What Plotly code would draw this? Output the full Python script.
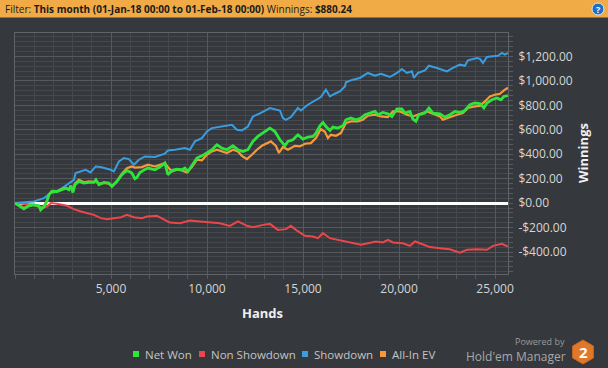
import plotly.graph_objects as go

# ---------------- data ----------------
net_hands = [0, 203, 464, 724, 984, 1245, 1333, 1505, 1661, 1766, 1922, 2182, 2443, 2651, 2807, 2911, 3015, 3120,
             3328, 3588, 3849, 4109, 4213, 4370, 4630, 4890, 5047, 5307, 5567, 5828, 6088, 6244, 6349, 6505, 6713,
             6921, 7286, 7546, 7807, 7963, 8171, 8431, 8692, 8848, 9004, 9213, 9473, 9733, 9994, 10254, 10515,
             10775, 11036, 11348, 11608, 11869, 12129, 12390, 12650, 13015, 13275, 13536, 13796, 14056, 14212,
             14473, 14733, 14994, 15254, 15515, 15671, 15879, 16036, 16192, 16400, 16556, 16817, 17077, 17233,
             17494, 17754, 18015, 18223, 18483, 18744, 18900, 19160, 19421, 19629, 19890, 20150, 20306, 20567,
             20723, 20879, 21035, 21348, 21556, 21764, 22129, 22390, 22650, 22910, 23171, 23431, 23692, 23952,
             24212, 24421, 24577, 24837, 25098, 25306, 25463, 25671]
net_won = [0, -22, -47, -22, -14, -22, -55, -30, 14, 68, 95, 95, 113, 123, 109, 143, 87, 150,
           177, 164, 169, 169, 191, 150, 169, 164, 136, 177, 232, 268, 246, 200, 210, 250, 270,
           287, 273, 295, 328, 232, 267, 278, 273, 287, 259, 305, 369, 387, 414, 437, 477,
           450, 437, 469, 437, 423, 437, 505, 546, 586, 614, 586, 518, 469, 505,
           518, 559, 524, 541, 546, 573, 633, 660, 627, 595, 622, 614, 633, 682,
           696, 682, 696, 723, 737, 750, 723, 742, 731, 709, 770, 770, 737, 750,
           688, 669, 723, 737, 778, 737, 731, 704, 723, 750, 742, 758, 805, 819,
           814, 778, 819, 846, 860, 846, 873, 880.24]

nsd_hands = [0, 984, 1349, 1661, 1870, 2182, 2703, 3067, 3432, 3745, 4109, 4474, 4786, 5151, 5515, 5828, 6192,
             6609, 6869, 7390, 7703, 8067, 8588, 9108, 9629, 10150, 10671, 11192, 11608, 12077, 12390, 12911,
             13275, 13692, 14108, 14369, 14629, 15098, 15515, 15775, 15931, 16036, 16400, 16817, 17181, 17598,
             18015, 18379, 18796, 19160, 19421, 19681, 20202, 20567, 20827, 21087, 21608, 22129, 22650, 23171,
             23535, 24056, 24577, 24890, 25359, 25671]
nsd_won = [0, -14, -41, -28, 0, -5, -22, -49, -69, -82, -96, -123, -131, -123, -115, -96, -115,
           -123, -110, -104, -131, -159, -164, -142, -150, -159, -164, -186, -150, -186, -197, -178,
           -170, -219, -213, -186, -219, -268, -273, -287, -260, -246, -287, -300, -314, -322,
           -341, -328, -314, -322, -300, -322, -328, -350, -314, -328, -360, -369, -377, -405,
           -382, -377, -382, -350, -333, -355]

sd_hands = [0, 984, 1505, 1854, 2198, 2547, 2807, 3067, 3156, 3416, 3677, 3937, 4198, 4458, 4979, 5151, 5411,
            5671, 5932, 6192, 6453, 6765, 7286, 7807, 7963, 8327, 8848, 9108, 9369, 9733, 9994, 10254, 10775,
            11296, 11556, 11817, 12129, 12390, 12754, 13015, 13275, 13796, 13952, 14108, 14369, 14733, 14890,
            15254, 15671, 15931, 16192, 16400, 16661, 16921, 17181, 17233, 17598, 17963, 18379, 18744, 19056,
            19421, 19525, 19890, 20150, 20410, 20671, 20775, 20983, 21348, 21556, 21973, 22494, 22806, 23171,
            23431, 23587, 24056, 24212, 24369, 24577, 24890, 25150, 25359, 25515, 25671]
sd_won = [0, 13, 41, 82, 95, 136, 164, 191, 246, 259, 273, 251, 300, 295, 273, 259, 341,
          369, 360, 314, 355, 382, 377, 404, 431, 437, 450, 437, 505, 532, 586, 614, 627,
          641, 600, 595, 627, 709, 735, 760, 778, 758, 696, 682, 704, 778, 758,
          805, 846, 868, 928, 873, 895, 914, 955, 988, 1010, 1024, 1065, 1043, 1059,
          1037, 1032, 1065, 1097, 1065, 1078, 1024, 1065, 1086, 1124, 1106, 1078, 1106, 1133,
          1124, 1168, 1188, 1180, 1147, 1196, 1201, 1206, 1229, 1215, 1229]

ev_hands = [0, 203, 464, 724, 984, 1245, 1333, 1505, 1661, 1766, 1922, 2182, 2443, 2651, 2807, 2911, 3015, 3120,
            3328, 3588, 3849, 4109, 4213, 4370, 4630, 4890, 5047, 5307, 5567, 5828, 6088, 6244, 6349, 6609,
            6921, 7286, 7546, 7807, 7963, 8171, 8431, 8692, 8952, 9213, 9473, 9733, 9994, 10254, 10515, 10775,
            11036, 11348, 11608, 11817, 12077, 12338, 12598, 12859, 13015, 13327, 13588, 13744, 13952, 14212,
            14577, 14838, 15098, 15411, 15671, 15931, 16140, 16296, 16452, 16713, 16973, 17233, 17494, 17858,
            18119, 18379, 18744, 19056, 19421, 19681, 20046, 20410, 20723, 21087, 21452, 21764, 22129, 22285,
            22650, 23015, 23327, 23587, 23952, 24212, 24473, 24733, 24994, 25254, 25463, 25671]
ev_won = [0, -20, -40, -20, -12, -25, -45, -25, 20, 70, 100, 98, 118, 125, 112, 140, 95, 160,
          190, 170, 178, 175, 180, 160, 165, 160, 140, 180, 240, 285, 300, 290, 292, 295,
          314, 300, 314, 328, 295, 259, 273, 267, 251, 295, 355, 350, 396, 423, 437, 423,
          410, 437, 423, 387, 360, 396, 437, 469, 480, 505, 469, 410, 459, 437,
          469, 464, 486, 491, 532, 606, 584, 532, 559, 551, 573, 655, 669, 669,
          682, 715, 723, 709, 704, 750, 750, 723, 709, 731, 750, 731, 709, 682,
          704, 723, 737, 778, 791, 796, 832, 873, 887, 895, 922, 945]

series_names = ["Net Won", "Non Showdown", "Showdown", "All-In EV"]
series_colors = ["#2fe43a", "#e9474b", "#3a9de0", "#f5993a"]

y_tickvals = [-400, -200, 0, 200, 400, 600, 800, 1000, 1200]
y_ticktext = ["-$400.00", "-$200.00", "$0.00", "$200.00", "$400.00", "$600.00", "$800.00", "$1,000.00", "$1,200.00"]
x_tickvals = [5000, 10000, 15000, 20000, 25000]
x_ticktext = ["5,000", "10,000", "15,000", "20,000", "25,000"]

filter_text = "Filter: <b>This month (01-Jan-18 00:00 to 01-Feb-18 00:00)</b> Winnings: <b>$880.24</b>"

# ---------------- layout helpers (pixel -> paper) ----------------
W, H = 608, 368
L, R, T, B = 15, 508, 33, 274
PW, PH = R - L, B - T


def px(x):
    return (x - L) / PW


def py(y):
    return (B - y) / PH


BG = "#35383c"
FONT = "Open Sans"

fig = go.Figure()

draw_order = [1, 2, 3, 0]
all_x = [net_hands, nsd_hands, sd_hands, ev_hands]
all_y = [net_won, nsd_won, sd_won, ev_won]
widths = [2.8, 2, 2, 2.2]
for i in draw_order:
    fig.add_trace(go.Scatter(x=all_x[i], y=all_y[i], mode="lines", name=series_names[i],
                             line=dict(color=series_colors[i], width=widths[i]), showlegend=False))

grid_major = "#56595d"
grid_minor = "#45484c"

fig.update_layout(
    width=W, height=H,
    margin=dict(l=L, r=W - R, t=T, b=H - B, pad=0),
    paper_bgcolor=BG, plot_bgcolor=BG,
    font=dict(family=FONT, color="#d6d6d6", size=12),
    showlegend=False,
    xaxis=dict(range=[0, 25675], tickvals=x_tickvals, ticktext=x_ticktext,
               showgrid=True, gridcolor=grid_major, gridwidth=1,
               ticks="outside", ticklen=4, tickcolor=grid_major,
               minor=dict(dtick=1000, tick0=0, showgrid=True, gridcolor=grid_minor,
                          ticks="outside", ticklen=4, tickcolor=grid_major),
               showline=True, linecolor="#606367", mirror=True, zeroline=False,
               tickfont=dict(size=12, color="#d6d6d6")),
    yaxis=dict(range=[-580, 1392], side="right", tickvals=y_tickvals, ticktext=y_ticktext,
               showgrid=True, gridcolor=grid_major, gridwidth=1,
               ticks="outside", ticklen=4, tickcolor=grid_major,
               minor=dict(dtick=40, tick0=0, showgrid=True, gridcolor=grid_minor,
                          ticks="outside", ticklen=4, tickcolor=grid_major),
               showline=True, linecolor="#606367", mirror=True,
               zeroline=True, zerolinecolor="#ffffff", zerolinewidth=2.5,
               ticklabelstandoff=3,
               tickfont=dict(size=12, color="#d6d6d6")),
)

shapes = []
annotations = []

# header bar
shapes.append(dict(type="rect", xref="paper", yref="paper", x0=px(0), x1=px(W), y0=py(17.5), y1=py(0),
                   fillcolor="#f0ab46", line=dict(width=0), layer="above"))
annotations.append(dict(xref="paper", yref="paper", x=px(3), y=py(9), xanchor="left", yanchor="middle",
                        text=filter_text, showarrow=False, font=dict(size=10, color="#1b1b1b", family=FONT)))
# help icon
shapes.append(dict(type="circle", xref="paper", yref="paper", x0=px(592), x1=px(604), y0=py(15), y1=py(3),
                   fillcolor="#1f6fc4", line=dict(color="#d8e6f5", width=1), layer="above"))
annotations.append(dict(xref="paper", yref="paper", x=px(598), y=py(9.3), xanchor="center", yanchor="middle",
                        text="<b>?</b>", showarrow=False, font=dict(size=9, color="#ffffff", family=FONT)))

# axis titles
annotations.append(dict(xref="paper", yref="paper", x=px(262), y=py(313), xanchor="center", yanchor="middle",
                        text="<b>Hands</b>", showarrow=False, font=dict(size=13, color="#f0f0f0", family=FONT)))
annotations.append(dict(xref="paper", yref="paper", x=px(583), y=py(153), xanchor="center", yanchor="middle",
                        text="<b>Winnings</b>", textangle=-90, showarrow=False,
                        font=dict(size=13, color="#f0f0f0", family=FONT)))

# custom legend
legend_sq_x = [133, 199, 302, 380]
for name, col, sx in zip(series_names, series_colors, legend_sq_x):
    shapes.append(dict(type="rect", xref="paper", yref="paper", x0=px(sx), x1=px(sx + 6), y0=py(357), y1=py(351),
                       fillcolor=col, line=dict(width=0)))
    annotations.append(dict(xref="paper", yref="paper", x=px(sx + 10), y=py(354), xanchor="left", yanchor="middle",
                            text=name, showarrow=False, font=dict(size=11.5, color="#c4c4c4", family=FONT)))

# powered by logo
annotations.append(dict(xref="paper", yref="paper", x=px(567), y=py(341.5), xanchor="right", yanchor="middle",
                        text="Powered by", showarrow=False, font=dict(size=9, color="#9a9a9a", family=FONT)))
annotations.append(dict(xref="paper", yref="paper", x=px(568), y=py(356), xanchor="right", yanchor="middle",
                        text="Hold'em Manager", showarrow=False, font=dict(size=12, color="#a8a8a8", family=FONT)))
cx, cy, r = 583, 352, 12
hexpts = [(cx, cy - r), (cx + 0.866 * r, cy - r / 2), (cx + 0.866 * r, cy + r / 2), (cx, cy + r),
          (cx - 0.866 * r, cy + r / 2), (cx - 0.866 * r, cy - r / 2)]
path = "M " + " L ".join(f"{px(a):.5f},{py(b):.5f}" for a, b in hexpts) + " Z"
shapes.append(dict(type="path", xref="paper", yref="paper", path=path, fillcolor="#e0782a",
                   line=dict(color="#c8651f", width=1)))
annotations.append(dict(xref="paper", yref="paper", x=px(583), y=py(352), xanchor="center", yanchor="middle",
                        text="<b>2</b>", showarrow=False, font=dict(size=15, color="#ffffff", family=FONT)))

fig.update_layout(shapes=shapes, annotations=annotations)

fig.write_html("out.html", config={"displayModeBar": False},
               post_script="document.body.style.margin='0';document.body.style.background='#35383c';")
